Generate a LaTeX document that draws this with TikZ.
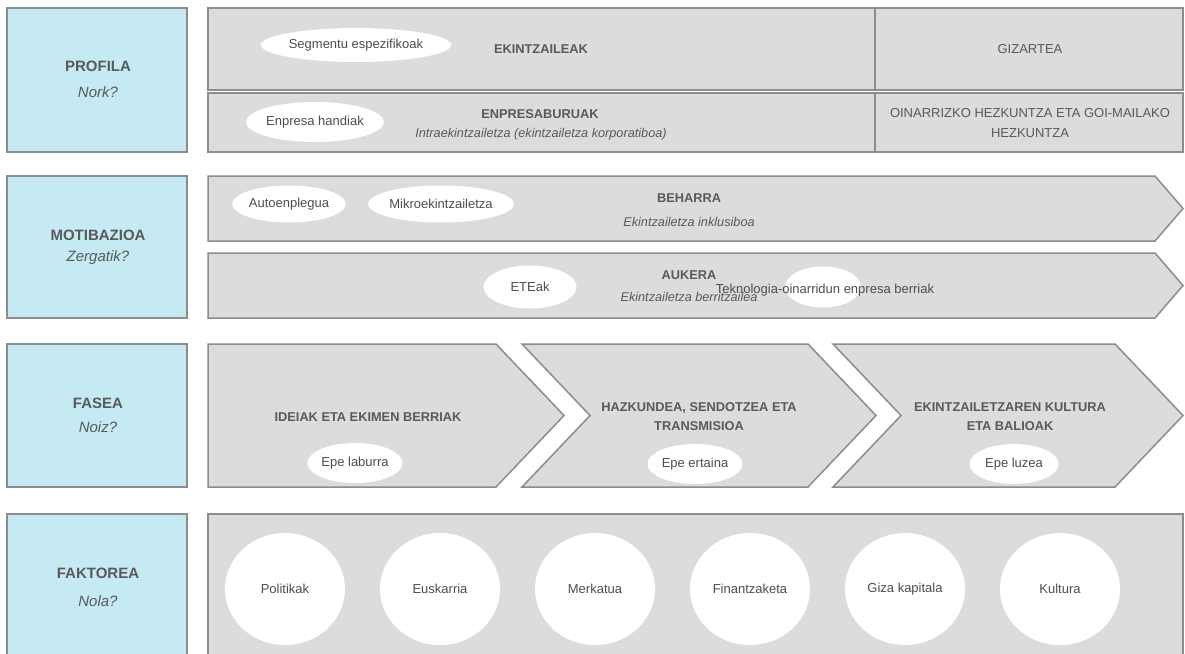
\documentclass[tikz,border=0pt]{standalone}
\usepackage{fontspec}
\setmainfont{Liberation Sans}
\usetikzlibrary{shapes.geometric}
\definecolor{bluefill}{RGB}{197,234,243}
\definecolor{grayfill}{RGB}{220,220,220}
\definecolor{edgegray}{RGB}{140,140,140}
\definecolor{txtgray}{RGB}{89,89,89}
\definecolor{ovaltxt}{RGB}{77,77,77}
\begin{document}
\begin{tikzpicture}[x=1pt,y=-1pt,
  bluebox/.style={fill=bluefill,draw=edgegray,line width=1.5pt},
  graybox/.style={fill=grayfill,draw=edgegray,line width=1.5pt,line join=miter},
  head/.style={font=\fontsize{15}{18}\selectfont\bfseries,text=txtgray,inner sep=0pt},
  sub/.style={font=\fontsize{15}{18}\selectfont\itshape,text=txtgray,inner sep=0pt},
  ttl/.style={font=\fontsize{12.8}{19}\selectfont\bfseries,text=txtgray,inner sep=0pt,align=center},
  ttlr/.style={font=\fontsize{13}{20}\selectfont,text=txtgray,inner sep=0pt,align=center},
  itl/.style={font=\fontsize{12.7}{14}\selectfont\itshape,text=txtgray,inner sep=0pt},
  oval/.style={ellipse,fill=white,draw=none,inner sep=0pt,font=\fontsize{13}{15}\selectfont,text=ovaltxt},
  disc/.style={ellipse,fill=white,draw=none,inner sep=0pt,minimum width=120pt,minimum height=112pt,font=\fontsize{13}{15}\selectfont,text=ovaltxt}
]
\useasboundingbox (0,0) rectangle (1185,653);
\clip (0,0) rectangle (1185,653);
\fill[white] (0,0) rectangle (1185,653);

% left column
\draw[bluebox] (7,8) rectangle (187,152);
\draw[bluebox] (7,176) rectangle (187,318);
\draw[bluebox] (7,344) rectangle (187,487);
\draw[bluebox] (7,514) rectangle (187,670);
\node[head] (h1) at (98,66) {PROFILA};
\node[sub]  (s1) at (98,92) {Nork?};
\node[head] (h2) at (98,235) {MOTIBAZIOA};
\node[sub]  (s2) at (98,258) {Zergatik?};
\node[head] (h3) at (98,403) {FASEA};
\node[sub]  (s3) at (98,427) {Noiz?};
\node[head] (h4) at (98,573) {FAKTOREA};
\node[sub]  (s4) at (98,601) {Nola?};

% PROFILA
\draw[graybox] (208,8) rectangle (875,90);
\draw[graybox] (875,8) rectangle (1183,90);
\draw[graybox] (208,93) rectangle (875,152);
\draw[graybox] (875,93) rectangle (1183,152);
\node[oval,minimum width=157pt,minimum height=34pt] (seg) at (356,45) {Segmentu espezifikoak};
\node[ttl] (ekin) at (541,49) {EKINTZAILEAK};
\node[ttlr] (giz) at (1030,49) {GIZARTEA};
\node[oval,minimum width=136pt,minimum height=40pt] (enh) at (315,122) {Enpresa handiak};
\node[ttl] (enp) at (540,114) {ENPRESABURUAK};
\node[itl] (intra) at (541,134) {Intraekintzailetza (ekintzailetza korporatiboa)};
\node[ttlr] (oin) at (1030,123) {OINARRIZKO HEZKUNTZA ETA GOI-MAILAKO\\HEZKUNTZA};

% MOTIBAZIOA
\draw[graybox] (208,176) -- (1155,176) -- (1183,208.5) -- (1155,241) -- (208,241) -- cycle;
\draw[graybox] (208,253) -- (1155,253) -- (1183,285.5) -- (1155,318) -- (208,318) -- cycle;
\node[oval,minimum width=111pt,minimum height=37pt] (auto) at (289,204) {Autoenplegua};
\node[oval,minimum width=136pt,minimum height=37pt] (mikro) at (441,204) {Mikroekintzailetza};
\node[ttl] (beh) at (689,198) {BEHARRA};
\node[itl] (incl) at (689,222) {Ekintzailetza inklusiboa};
\node[oval,minimum width=93pt,minimum height=43pt] (ete) at (530,287) {ETEak};
\node[ttl] (auk) at (689,275) {AUKERA};
\node[itl] (berr) at (689,297) {Ekintzailetza berritzailea};
\node[oval,minimum width=76pt,minimum height=41pt] (tekov) at (823,287) {};
\node[font=\fontsize{13}{15}\selectfont,text=ovaltxt,inner sep=0pt] (tek) at (825,290) {Teknologia-oinarridun enpresa berriak};

% FASEA
\draw[graybox] (208,344) -- (496,344) -- (564,415.5) -- (496,487) -- (208,487) -- cycle;
\draw[graybox] (522,344) -- (808,344) -- (876,415.5) -- (808,487) -- (522,487) -- (590,415.5) -- cycle;
\draw[graybox] (833,344) -- (1115,344) -- (1183,415.5) -- (1115,487) -- (833,487) -- (901,415.5) -- cycle;
\node[ttl] (f1) at (368,417) {IDEIAK ETA EKIMEN BERRIAK};
\node[oval,minimum width=86pt,minimum height=40pt] (e1) at (355,463) {Epe laburra};
\node[ttl] (f2) at (699,417) {HAZKUNDEA, SENDOTZEA ETA\\TRANSMISIOA};
\node[oval,minimum width=95pt,minimum height=40pt] (e2) at (695,464) {Epe ertaina};
\node[ttl] (f3) at (1010,417) {EKINTZAILETZAREN KULTURA\\ETA BALIOAK};
\node[oval,minimum width=89pt,minimum height=40pt] (e3) at (1014,464) {Epe luzea};

% FAKTOREA
\draw[graybox] (208,514) rectangle (1183,670);
\node[disc] (c1) at (285,589) {Politikak};
\node[disc] (c2) at (440,589) {Euskarria};
\node[disc] (c3) at (595,589) {Merkatua};
\node[disc] (c4) at (750,589) {Finantzaketa};
\node[disc] (c5) at (905,589) {Giza kapitala};
\node[disc] (c6) at (1060,589) {Kultura};
\end{tikzpicture}
\end{document}
